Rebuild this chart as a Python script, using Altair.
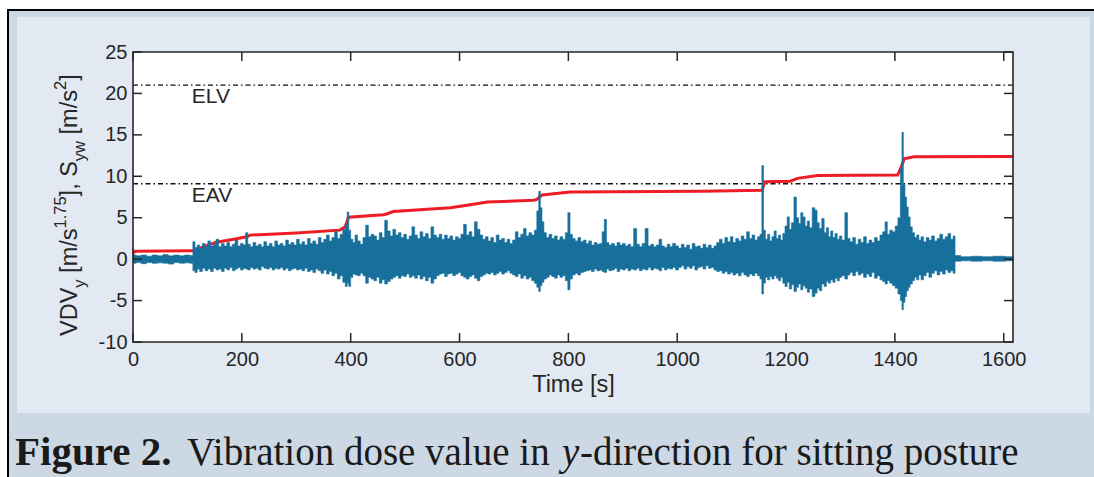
import altair as alt
import pandas as pd

# ---------------- data ----------------
x_ticks = [0, 200, 400, 600, 800, 1000, 1200, 1400, 1600]
y_ticks = [-10, -5, 0, 5, 10, 15, 20, 25]

limit_names = ["ELV", "EAV"]
limit_vals = [21.0, 9.1]
label_t = [108, 108]
label_v = [19.6, 7.6]

# VDV_y (red)
vdv_t = [0, 4, 110, 130, 153, 180, 209, 215, 300, 380, 390, 396, 460, 466, 478,
         583, 614, 651, 736, 742, 752, 803, 1043, 1156, 1161, 1208, 1221, 1258,
         1405, 1411, 1417, 1435, 1617]
vdv_v = [0.7, 0.95, 1.0, 1.5, 2.05, 2.35, 2.7, 2.9, 3.15, 3.5, 3.9, 5.05, 5.35, 5.45, 5.75,
         6.2, 6.5, 6.9, 7.1, 7.2, 7.75, 8.1, 8.2, 8.3, 9.35, 9.4, 9.75, 10.1,
         10.15, 11.0, 12.1, 12.35, 12.4]

# S_yw acceleration signal (blue), upper / lower envelope
sig_t = [0, 2, 10, 20, 30, 40, 50, 60, 70, 80, 90, 100, 108,
         112, 116, 120, 125, 130, 135, 140, 145, 150, 155, 160, 165, 170, 175, 180, 185, 190, 195, 200, 205,
         209, 213, 218, 223, 228, 233, 238, 243, 248, 253, 258, 263, 268, 273, 278, 283, 288, 293, 298, 303,
         308, 313, 318, 323, 328, 333, 338, 343, 348, 353, 358, 363, 368, 373, 378, 383, 388,
         392, 395, 398, 402, 406, 410, 415, 420, 425, 430, 435, 440, 445, 450, 455, 460, 465, 470, 475, 480,
         485, 490, 495, 500,
         505, 510, 515, 520, 525, 530, 535, 540, 545, 550, 555, 560, 565, 570, 575, 580, 585, 590, 595, 600,
         605, 610, 615, 620, 625, 630, 635, 640, 645, 650, 655, 660, 665, 670, 675, 680, 685, 690, 695, 700,
         705, 710, 715, 720, 725, 730, 735, 740,
         744, 747, 750, 753, 757, 762, 767, 772, 777, 782, 787, 792, 797, 801, 805, 810, 815, 820, 825, 830,
         835, 840, 845, 850, 855, 860, 864, 868, 872, 877, 882, 887, 892, 897, 902, 907, 912, 917, 923, 928,
         933, 938, 944, 949, 954, 959, 964, 969, 974, 979, 984, 989, 994, 1000,
         1005, 1010, 1015, 1020, 1025, 1030, 1035, 1040, 1045, 1050, 1055, 1060, 1065, 1070, 1075, 1080,
         1085, 1090, 1095, 1100, 1105, 1110, 1115, 1120, 1125, 1130, 1135, 1140, 1145, 1150, 1154,
         1157, 1160, 1164, 1168, 1172, 1176, 1180, 1184, 1188, 1192, 1196, 1200, 1204, 1208, 1212, 1217,
         1221, 1225, 1229, 1233, 1237, 1241, 1245, 1251, 1255, 1259, 1263, 1268, 1272, 1276, 1280, 1284,
         1288, 1292, 1296, 1300, 1305, 1311, 1315,
         1320, 1325, 1330, 1335, 1340, 1345, 1350, 1355, 1360, 1365, 1370, 1375, 1380, 1384, 1388, 1393,
         1398, 1403, 1408,
         1412, 1414, 1417, 1420, 1423, 1426, 1430, 1434, 1438, 1442, 1446, 1450, 1455, 1460, 1465, 1470,
         1475, 1480, 1485, 1490, 1495, 1500, 1505, 1509,
         1512, 1530, 1550, 1570, 1590, 1617]
sig_hi = [1.4, 0.5, 0.4, 0.5, 0.35, 0.5, 0.4, 0.55, 0.4, 0.5, 0.4, 0.5, 0.45,
          2.1, 1.4, 1.7, 1.3, 1.9, 1.5, 2.2, 1.6, 1.8, 2.4, 1.5, 1.9, 1.6, 2.0, 1.5, 1.8, 2.3, 1.6, 1.9, 1.7,
          3.2, 1.8, 1.5, 2.0, 1.6, 1.8, 1.5, 2.1, 1.6, 1.9, 1.5, 2.2, 1.7, 1.9, 1.6, 2.3, 1.8, 2.0, 1.7, 2.4,
          1.8, 2.1, 1.7, 2.5, 1.9, 2.2, 1.8, 2.6, 2.0, 2.4, 2.9, 2.2, 2.6, 3.3, 2.5, 3.0, 3.6,
          4.2, 5.7, 3.5, 2.4, 2.0, 2.9, 2.2, 1.8, 2.6, 4.1, 2.7, 3.0, 2.8, 2.3, 3.2, 2.6, 4.7, 3.4, 2.8, 3.6,
          2.9, 3.2, 2.6, 3.0,
          2.4, 2.8, 3.9, 2.9, 2.5, 3.3, 2.7, 3.1, 2.5, 3.9, 2.9, 2.6, 3.0, 2.4, 2.9, 2.5, 2.8, 2.3, 2.7, 2.5,
          3.0, 4.2, 2.9, 3.3, 2.7, 4.5, 3.6, 2.9, 2.4, 2.7, 2.2, 2.6, 2.0, 2.9, 2.3, 2.5, 2.0, 2.4, 1.9, 2.3,
          3.3, 2.6, 3.0, 3.7, 2.8, 3.2, 2.9, 3.5,
          5.8, 8.2, 6.2, 4.5, 3.2, 2.6, 3.0, 2.5, 2.8, 2.3, 2.7, 2.4, 3.2, 5.6, 3.0, 2.5, 2.2, 2.6, 2.1, 2.3,
          1.9, 2.2, 1.7, 2.0, 1.8, 1.9, 3.3, 4.8, 2.0, 1.7, 1.9, 1.6, 2.0, 1.7, 1.9, 1.6, 1.8, 1.5, 3.7, 1.8,
          1.5, 1.9, 3.7, 1.6, 1.8, 1.5, 1.7, 2.4, 1.6, 1.4, 1.8, 1.5, 1.9, 1.6,
          1.3, 1.8, 1.4, 1.7, 1.2, 1.9, 1.5, 1.6, 1.3, 1.8, 1.4, 1.7, 1.3, 1.6, 2.0, 2.4,
          1.9, 2.6, 2.1, 2.7, 2.0, 2.5, 2.2, 2.8, 2.4, 3.3, 2.5, 2.9, 2.3, 2.7, 3.0,
          11.3, 3.5, 2.4, 3.0, 2.2, 2.7, 3.4, 2.5, 2.9, 2.3, 3.1, 4.0, 5.1, 3.6, 4.4, 7.5,
          5.0, 4.3, 5.6, 5.1, 4.0, 4.6, 3.8, 6.2, 5.9, 4.4, 3.7, 4.9, 3.2, 3.8, 2.7, 3.4,
          2.6, 3.1, 2.4, 2.8, 2.3, 5.6, 2.5,
          2.1, 2.6, 1.8, 2.4, 2.0, 2.7, 1.9, 2.3, 2.0, 2.6, 2.2, 2.9, 3.3, 4.5, 3.0, 3.5,
          3.3, 4.0, 5.0,
          11.0, 15.3, 9.0, 7.5, 6.3, 5.1, 3.9, 3.2, 2.6, 2.9, 2.3, 2.7, 2.1, 2.6, 2.3, 2.8,
          2.2, 2.5, 3.0, 2.4, 2.7, 3.1, 2.4, 2.8,
          0.45, 0.3, 0.35, 0.3, 0.35, 0.3]
sig_lo = [-0.2, -0.5, -0.4, -0.55, -0.4, -0.5, -0.45, -0.5, -0.6, -0.4, -0.5, -0.45, -0.5,
          -1.4, -1.6, -1.2, -1.5, -1.1, -1.4, -1.2, -1.5, -1.1, -1.3, -1.2, -1.5, -1.1, -1.3, -1.0, -1.4, -1.2, -1.0, -1.3, -1.1,
          -1.2, -1.3, -1.0, -1.2, -1.1, -1.3, -0.9, -1.1, -1.2, -1.0, -1.3, -1.1, -1.2, -1.0, -1.3, -1.1, -1.4, -1.2, -1.1, -1.3,
          -1.2, -1.4, -1.1, -1.5, -1.3, -1.6, -1.2, -1.4, -1.7, -1.3, -1.8, -1.5, -2.0, -1.7, -2.4, -2.0, -2.8,
          -3.3, -2.9, -3.3, -2.2, -1.8, -1.9, -2.0, -1.7, -2.0, -2.9, -2.2, -2.4, -2.6, -2.2, -2.9, -2.5, -3.0, -2.7, -2.4, -2.2,
          -2.0, -2.3, -2.0, -2.1,
          -1.8, -2.2, -2.0, -2.3, -1.9, -2.4, -2.1, -2.6, -2.2, -2.9, -2.4, -2.0, -1.8, -1.7, -2.1, -1.8, -1.7, -2.0, -1.8, -1.6,
          -2.0, -2.2, -2.4, -2.1, -1.9, -2.3, -2.6, -2.1, -1.9, -1.7, -1.8, -1.6, -1.9, -1.7, -1.5, -1.8, -1.6, -1.4, -1.7, -1.9,
          -2.1, -1.8, -2.3, -2.0, -2.4, -2.2, -2.6, -2.9,
          -3.4, -3.9, -3.2, -2.8, -2.4, -2.2, -1.9, -2.1, -2.3, -1.9, -2.2, -2.0, -2.6, -3.7, -2.4, -1.9, -1.7, -1.9, -1.6, -1.5,
          -1.4, -1.3, -1.5, -1.2, -1.4, -1.3, -1.5, -1.6, -1.2, -1.4, -1.3, -1.1, -1.5, -1.2, -1.3, -1.1, -1.4, -1.2, -1.3, -1.1,
          -1.4, -1.2, -1.3, -1.0, -1.3, -1.1, -1.2, -1.4, -1.0, -1.3, -1.1, -1.2, -1.0, -1.3,
          -1.0, -0.8, -1.2, -0.9, -1.1, -0.8, -1.3, -1.0, -0.9, -1.2, -0.8, -1.1, -1.0, -1.3, -1.5, -1.4,
          -1.7, -1.5, -1.8, -1.6, -1.9, -1.7, -2.0, -1.6, -1.9, -2.1, -1.8, -2.0, -1.7, -2.0, -2.4,
          -4.2, -2.9, -2.2, -2.5, -2.1, -2.4, -2.0, -2.3, -2.6, -2.2, -2.9, -3.3, -2.8, -3.6, -3.1, -3.9,
          -3.4, -3.0, -3.7, -3.2, -3.5, -4.0, -3.6, -4.5, -4.1, -3.5, -3.8, -3.0, -3.3, -2.7, -2.9, -2.5,
          -2.8, -2.3, -2.6, -2.2, -2.0, -2.4, -1.9,
          -1.6, -2.0, -1.5, -1.9, -1.7, -2.2, -1.8, -2.1, -1.6, -2.3, -2.0, -2.5, -2.7, -3.0, -2.6, -2.9,
          -3.2, -3.5, -4.2,
          -5.0, -6.1, -5.2, -4.5, -3.8, -3.4, -3.0, -2.6, -2.2, -2.5, -1.9, -2.5, -2.0, -1.6, -2.2, -1.7,
          -1.4, -1.9, -1.5, -1.8, -1.3, -1.6, -1.4, -1.7,
          -0.25, -0.2, -0.25, -0.2, -0.25, -0.2]

caption_parts = ["Figure 2.", "Vibration dose value in", "y", "-direction for sitting posture"]

# ---------------- layout / style ----------------
W, H = 880, 290
PL, PT = 133, 52
BLUE = "#17709c"
RED = "#ee1d25"
AX = "#262626"
TXT = "#262626"
SANS = "Liberation Sans"
SERIF = "Liberation Serif"

n = min(len(sig_t), len(sig_hi), len(sig_lo))
sig = pd.DataFrame({"t": sig_t[:n], "hi": sig_hi[:n], "lo": sig_lo[:n]})
vdv = pd.DataFrame({"t": vdv_t, "v": vdv_v})
lim = pd.DataFrame({"name": limit_names, "v": limit_vals, "lt": label_t, "lv": label_v})
xt = pd.DataFrame({"t": x_ticks})
yt = pd.DataFrame({"v": y_ticks})
one = pd.DataFrame({"k": [0]})

xs = alt.Scale(domain=[0, 1617], nice=False, zero=False)
ys = alt.Scale(domain=[-10, 25], nice=False, zero=False)

AXIS_X = alt.Axis(
    values=x_ticks, title="Time [s]", domain=False, ticks=False, grid=False,
    labelFont=SANS, labelFontSize=20, labelColor=TXT, labelPadding=7, labelFlush=False,
    titleFont=SANS, titleFontSize=23.5, titleFontWeight="normal", titleColor=TXT, titlePadding=3,
    format="d", zindex=1)
AXIS_Y = alt.Axis(
    values=y_ticks, title="", domain=False, ticks=False, grid=False,
    labelFont=SANS, labelFontSize=20, labelColor=TXT, labelPadding=6,
    labelExpr="'' + datum.value", zindex=1)


def X(f):
    return alt.X(f, scale=xs, axis=AXIS_X)


def Y(f):
    return alt.Y(f, scale=ys, axis=AXIS_Y)


def box(x1, x2, y1, y2, **kw):
    return alt.Chart(one).mark_rect(**kw).encode(
        x=alt.value(x1), x2=alt.value(x2), y=alt.value(y1), y2=alt.value(y2))


outer = box(8 - PL, 1110 - PL, 10 - PT, 490 - PT, fill="#cdd8e5", stroke="#000000", strokeWidth=2)
panel = box(17 - PL, 1090 - PL, 17 - PT, 413 - PT, fill="#e2e9f2")
plotbg = box(0, W, 0, H, fill="#ffffff")

limits = alt.Chart(lim).mark_rule(color="#111111", strokeWidth=1.3, strokeDash=[5, 3, 1.5, 3]).encode(
    y=Y("v:Q"), x=alt.value(0), x2=alt.value(W))
limit_text = alt.Chart(lim).mark_text(align="left", baseline="middle", font=SANS, fontSize=21, color=TXT).encode(
    x=X("lt:Q"), y=Y("lv:Q"), text="name:N")

area = alt.Chart(sig).mark_area(color=BLUE, stroke=BLUE, strokeWidth=0.6, interpolate="step").encode(
    x=X("t:Q"), y=Y("hi:Q"), y2="lo:Q")

red = alt.Chart(vdv).mark_line(color=RED, strokeWidth=3).encode(x=X("t:Q"), y=Y("v:Q"))

TL = 9
tick_kw = dict(color=AX, strokeWidth=1.5)
tb = alt.Chart(xt).mark_rule(**tick_kw).encode(x=X("t:Q"), y=alt.value(H), y2=alt.value(H - TL))
tt = alt.Chart(xt).mark_rule(**tick_kw).encode(x=X("t:Q"), y=alt.value(0), y2=alt.value(TL))
tl = alt.Chart(yt).mark_rule(**tick_kw).encode(y=Y("v:Q"), x=alt.value(0), x2=alt.value(TL))
tr = alt.Chart(yt).mark_rule(**tick_kw).encode(y=Y("v:Q"), x=alt.value(W), x2=alt.value(W - TL))
frame = box(0, W, 0, H, fillOpacity=0, stroke=AX, strokeWidth=1.6)

# y-axis title with sub/superscripts, built from rotated pieces
AW = {'V': 667, 'D': 722, ' ': 278, '[': 278, 'm': 833, '/': 278, 's': 500, ']': 278, ',': 278,
      'S': 667, 'y': 500, 'w': 722, '1': 556, '.': 278, '7': 556, '5': 556, '2': 556}
pieces = [("VDV", "main"), ("y", "sub"), (" [m/s", "main"), ("1.75", "sup"), ("],", "main"),
          (" S", "main"), ("yw", "sub"), (" [m/s", "main"), ("2", "sup"), ("]", "main")]
MAIN_FS, SCR_FS = 23.5, 16.5
base_x = 77 - PL
pos = 336 - PT
title_layers = []
for txt, kind in pieces:
    fs = MAIN_FS if kind == "main" else SCR_FS
    dx = {"main": 0, "sub": 8, "sup": -11}[kind]
    lead = txt[:len(txt) - len(txt.lstrip())]
    pos -= sum(AW[c] for c in lead) * fs / 1000
    body = txt.strip()
    title_layers.append(
        alt.Chart(one).mark_text(text=body, angle=270, align="left", baseline="alphabetic",
                                 font=SANS, fontSize=fs, color=TXT).encode(
            x=alt.value(base_x + dx), y=alt.value(pos)))
    pos -= sum(AW[c] for c in body) * fs / 1000

# caption
cap_x = [15, 187, 562, 580]
cap_fs = [41, 39, 39, 39]
cap_style = [dict(fontWeight="bold"), dict(), dict(fontStyle="italic"), dict()]
cap_layers = []
for txt, cx, fs, st in zip(caption_parts, cap_x, cap_fs, cap_style):
    cap_layers.append(
        alt.Chart(one).mark_text(text=txt, align="left", baseline="alphabetic", font=SERIF,
                                 fontSize=fs, color="#1a1a1a", **st).encode(
            x=alt.value(cx - PL), y=alt.value(465 - PT)))

chart = alt.layer(
    outer, panel, plotbg, limits, red, area, tb, tt, tl, tr, frame, limit_text,
    *title_layers, *cap_layers
).properties(
    width=W, height=H,
    padding={"left": PL, "top": PT, "right": 1094 - PL - W, "bottom": 477 - PT - H},
    autosize=alt.AutoSizeParams(type="none"),
    background="white",
).configure_view(stroke=None)

chart.save("out.html", embed_options={"renderer": "svg", "actions": False})
